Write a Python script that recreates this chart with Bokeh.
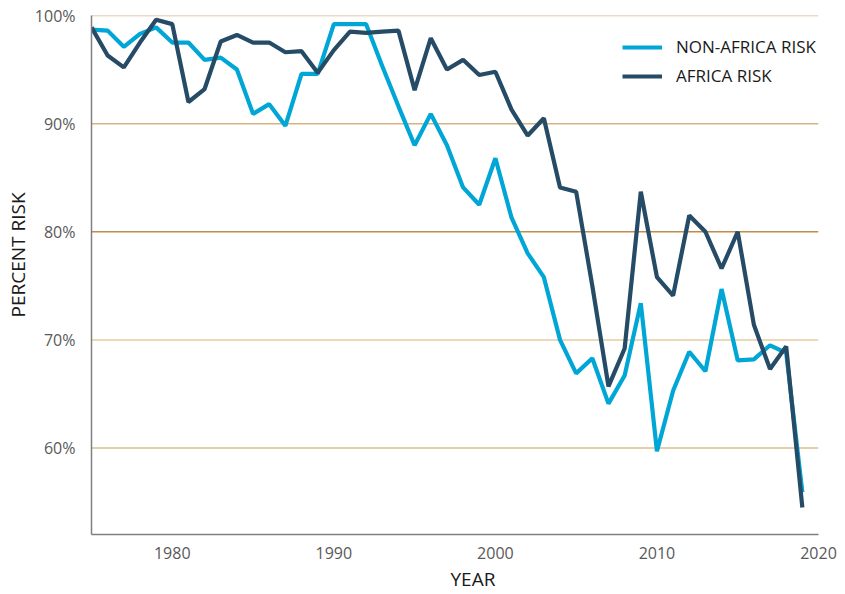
from bokeh.plotting import figure
from bokeh.models import Span, Legend, LegendItem, FixedTicker, PrintfTickFormatter, Range1d, Title
from bokeh.embed import file_html
from bokeh.resources import INLINE

years = list(range(1975, 2020))
non_africa = [98.7, 98.6, 97.1, 98.3, 98.9, 97.5, 97.5, 95.9, 96.1, 95.0,
              90.9, 91.8, 89.8, 94.6, 94.6, 99.2, 99.2, 99.2, 95.3, 91.6,
              88.0, 90.9, 88.0, 84.1, 82.5, 86.8, 81.3, 78.0, 75.8, 70.0,
              66.9, 68.3, 64.1, 66.7, 73.4, 59.7, 65.3, 68.9, 67.1, 74.7,
              68.1, 68.2, 69.5, 68.8, 55.9]
africa = [98.9, 96.3, 95.2, 97.5, 99.6, 99.2, 92.0, 93.2, 97.6, 98.2,
          97.5, 97.5, 96.6, 96.7, 94.7, 96.8, 98.5, 98.4, 98.5, 98.6,
          93.1, 97.9, 95.0, 95.9, 94.5, 94.8, 91.3, 88.9, 90.5, 84.1,
          83.7, 75.0, 65.7, 69.2, 83.7, 75.8, 74.1, 81.5, 80.0, 76.6,
          80.0, 71.4, 67.3, 69.4, 54.5]
x_ticks = [1980, 1990, 2000, 2010, 2020]
y_ticks = [60, 70, 80, 90, 100]
grid_colors = ["#dcbf8e", "#e6cca2", "#c08c48", "#d8b37e", "#d6b685"]

FONT = "Open Sans"

p = figure(width=837, height=594, output_backend="svg", toolbar_location=None,
           x_range=Range1d(1975, 2020), y_range=Range1d(52, 100),
           min_border_left=91, min_border_right=19, min_border_top=15, min_border_bottom=60)
p.outline_line_color = None
p.xgrid.visible = False
p.ygrid.visible = False

for v, c in zip(y_ticks, grid_colors):
    p.add_layout(Span(location=v, dimension="width", line_color=c, line_width=1.5, level="underlay"))

r1 = p.line(years, non_africa, line_color="#00a6d6", line_width=4.2)
r2 = p.line(years, africa, line_color="#254b66", line_width=4.2)

for ax in (p.xaxis[0], p.yaxis[0]):
    ax.axis_line_color = "#808080"
    ax.axis_line_width = 1.5
    ax.major_tick_line_color = None
    ax.minor_tick_line_color = None
    ax.major_label_text_font = FONT
    ax.major_label_text_font_size = "16px"
    ax.major_label_text_color = "#595959"

p.xaxis.ticker = FixedTicker(ticks=x_ticks)
p.yaxis.ticker = FixedTicker(ticks=y_ticks)
p.yaxis.formatter = PrintfTickFormatter(format="%d%%")
p.xaxis.major_label_standoff = 6
p.yaxis.major_label_standoff = 10

ytitle = Title(text="PERCENT RISK", align="left", offset=217, standoff=2,
               text_font=FONT, text_font_size="19px", text_font_style="normal",
               text_color="#1a1a1a")
p.add_layout(ytitle, "left")
xtitle = Title(text="YEAR", align="left", offset=359, standoff=4,
               text_font=FONT, text_font_size="19px", text_font_style="normal",
               text_color="#1a1a1a")
p.add_layout(xtitle, "below")

legend = Legend(items=[LegendItem(label="NON-AFRICA RISK", renderers=[r1]),
                       LegendItem(label="AFRICA RISK", renderers=[r2])],
                location=(531, 447))
legend.label_text_font = FONT
legend.label_text_font_size = "17px"
legend.label_text_color = "#1a1a1a"
legend.glyph_width = 40
legend.glyph_height = 22
legend.label_height = 22
legend.label_standoff = 14
legend.spacing = 6
legend.padding = 0
legend.margin = 0
legend.border_line_color = None
legend.background_fill_alpha = 0
p.add_layout(legend)

open("out.html", "w").write(file_html(p, INLINE))
